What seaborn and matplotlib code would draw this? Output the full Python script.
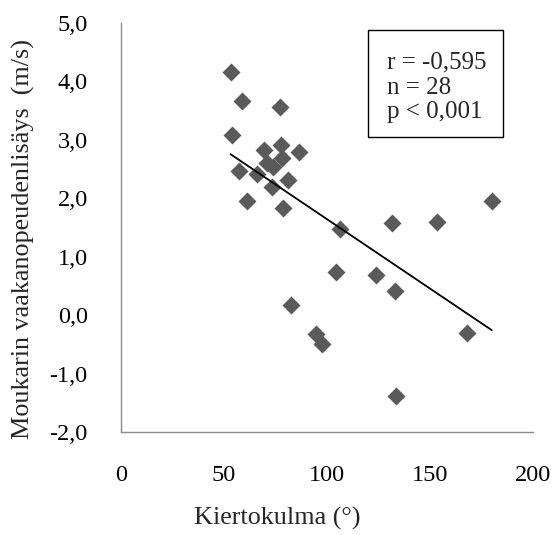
import numpy as np
import pandas as pd
import matplotlib
matplotlib.use("Agg")
import matplotlib.pyplot as plt
from matplotlib.patches import Rectangle
import seaborn as sns

# Rotation angle (degrees) and hammer horizontal velocity gain (m/s)
kiertokulma = [53.2, 58.9, 77.3, 53.9, 69.6, 77.7, 86.2, 57.4, 65.9, 78.0,
               71.0, 73.9, 81.2, 73.2, 78.8, 61.0, 106.3, 131.6, 153.2, 180.0,
               104.4, 123.6, 133.0, 82.5, 94.7, 97.4, 168.1, 133.6]
lisays = [4.16, 3.67, 3.56, 3.09, 2.83, 2.91, 2.80, 2.47, 2.42, 2.69,
          2.60, 2.54, 2.32, 2.20, 1.83, 1.95, 1.47, 1.58, 1.59, 1.95,
          0.74, 0.69, 0.41, 0.17, -0.32, -0.50, -0.30, -1.39]

x_ticks = [0, 50, 100, 150, 200]
x_tick_labels = ["0", "50", "100", "150", "200"]
y_ticks = [-2, -1, 0, 1, 2, 3, 4, 5]
y_tick_labels = ["-2,0", "-1,0", "0,0", "1,0", "2,0", "3,0", "4,0", "5,0"]
stats_lines = ["r = -0,595", "n = 28", "p < 0,001"]

df = pd.DataFrame({"kulma": kiertokulma, "lisays": lisays})

sns.set_style("white")
plt.rcParams["font.family"] = ["Liberation Serif", "DejaVu Serif"]
FS_TICK = 17.5
FS_LABEL = 18.8
FS_STATS = 18.0

fig = plt.figure(figsize=(5.54, 5.35), dpi=100)
ax = fig.add_axes([121 / 554, 1 - 432 / 535, 412 / 554, 409 / 535])

sns.scatterplot(data=df, x="kulma", y="lisays", marker="D", s=84,
                color="#5a5a5a", linewidth=0, ax=ax, zorder=3)
sns.regplot(data=df, x="kulma", y="lisays", scatter=False, ci=None,
            truncate=True, line_kws={"color": "black", "lw": 1.3, "zorder": 4},
            ax=ax)

ax.set_xlim(0, 200)
ax.set_ylim(-2, 5)
ax.set_xticks(x_ticks, x_tick_labels)
ax.set_yticks(y_ticks, y_tick_labels)
ax.tick_params(axis="both", length=0, labelsize=FS_TICK, colors="black")
ax.tick_params(axis="x", pad=24)
ax.tick_params(axis="y", pad=24)

for side in ["top", "right"]:
    ax.spines[side].set_visible(False)
for side in ["left", "bottom"]:
    ax.spines[side].set_color("#8a8a8a")
    ax.spines[side].set_linewidth(1.0)

ax.set_xlabel("Kiertokulma (°)", fontsize=FS_LABEL, va="center")
ax.xaxis.set_label_coords((277 - 121) / 412, (432 - 518) / 409)
ax.set_ylabel("Moukarin vaakanopeudenlisäys  (m/s)", fontsize=FS_LABEL, va="center")
ax.yaxis.set_label_coords((23 - 121) / 412, (432 - 238.5) / 409)

ax.add_patch(Rectangle((0.5995, 0.721), 0.3277, 0.262, transform=ax.transAxes,
                       fill=False, edgecolor="black", lw=1.0, zorder=5,
                       clip_on=False))
ax.text(0.645, (432 - 87.5) / 409, "\n".join(stats_lines), transform=ax.transAxes,
        fontsize=FS_STATS, ha="left", va="center", linespacing=1.17, zorder=6)

fig.savefig("out.png", dpi=100)
